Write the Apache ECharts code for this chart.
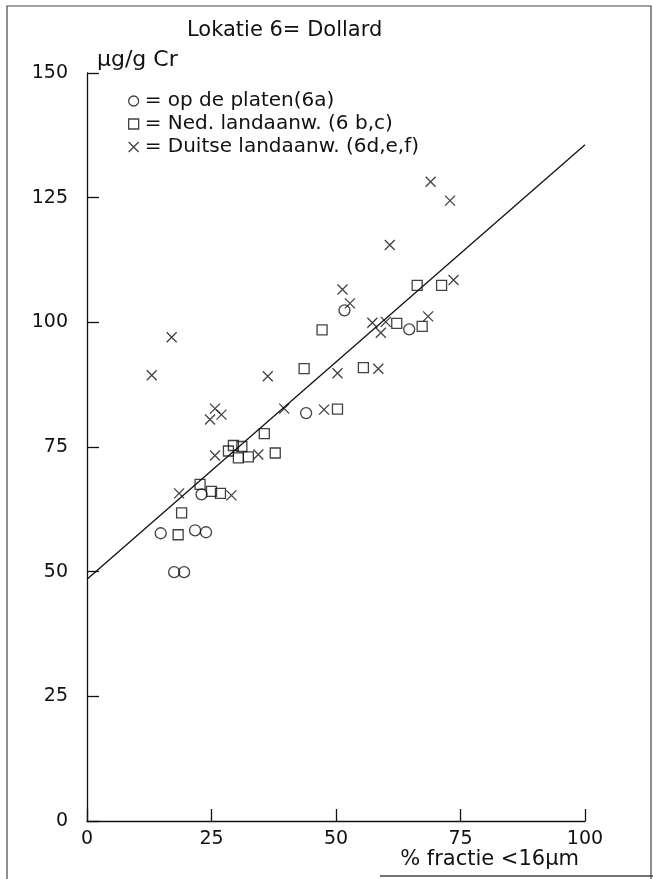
<!DOCTYPE html>
<html>
<head>
<meta charset="utf-8">
<script src="https://cdn.jsdelivr.net/npm/echarts@6/dist/echarts.min.js"></script>
<style>
html,body{margin:0;padding:0;background:#fff;}
#chart{width:653px;height:879px;}
</style>
</head>
<body>
<div id="chart"></div>
<script>
// ---- data ----
var xTicks = [0, 25, 50, 75, 100];
var yTicks = [0, 25, 50, 75, 100, 125, 150];

// o = op de platen (6a)
var platenData = [
  [14.8, 57.7], [17.5, 49.9], [19.5, 49.9], [21.7, 58.3], [23.9, 57.9],
  [23.0, 65.5], [44.0, 81.8], [51.7, 102.4], [64.7, 98.6]
];
// □ = Ned. landaanw. (6 b,c)
var nedData = [
  [18.3, 57.4], [19.0, 61.8], [22.7, 67.5], [25.0, 66.1], [26.8, 65.7],
  [28.4, 74.2], [29.4, 75.3], [31.1, 75.1], [30.4, 72.8], [32.4, 73.0],
  [35.6, 77.7], [37.8, 73.8], [43.6, 90.7], [47.2, 98.5], [50.3, 82.6],
  [55.5, 90.9], [62.2, 99.8], [66.3, 107.4], [67.3, 99.2], [71.2, 107.4]
];
// × = Duitse landaanw. (6d,e,f)
var duitseData = [
  [13.0, 89.4], [17.0, 97.0], [18.5, 65.7], [24.7, 80.5], [25.7, 82.7],
  [27.0, 81.5], [25.7, 73.3], [29.0, 65.3], [34.4, 73.5], [36.3, 89.2],
  [39.6, 82.7], [47.6, 82.5], [50.3, 89.8], [51.3, 106.6], [52.8, 103.8],
  [57.3, 99.9], [59.0, 97.9], [60.0, 100.1], [58.5, 90.7], [60.8, 115.5],
  [68.5, 101.2], [69.0, 128.2], [72.9, 124.4], [73.6, 108.5]
];
// regression line end points
var fitLine = [[0, 48.5], [100, 135.6]];

var seriesNames = ['op de platen(6a)', 'Ned. landaanw. (6 b,c)', 'Duitse landaanw. (6d,e,f)'];
var titleText = 'Lokatie 6= Dollard';
var yName = 'µg/g Cr';
var xName = '% fractie <16µm';

// ---- chart ----
var FONT = "'DejaVu Sans', sans-serif";
var INK = '#111';
var crossPath = 'path://M0,0L10,10M10,0L0,10';
var hollow = {color: 'rgba(0,0,0,0)', borderColor: INK, borderWidth: 1.3};

var chart = echarts.init(document.getElementById('chart'), null, {renderer: 'canvas'});
chart.setOption({
  animation: false,
  backgroundColor: '#fff',
  textStyle: {fontFamily: FONT, color: INK},
  title: {
    text: titleText,
    left: 187, top: 20, padding: 0,
    textStyle: {fontFamily: FONT, fontSize: 21, fontWeight: 'normal', color: INK}
  },
  legend: {
    orient: 'vertical',
    left: 123, top: 86,
    itemWidth: 10, itemHeight: 10, itemGap: 3,
    formatter: function (n) { return '= ' + n; },
    textStyle: {fontFamily: FONT, fontSize: 20, color: INK, lineHeight: 20, padding: [0, 0, 0, 1]},
    data: [
      {name: seriesNames[0], icon: 'circle', itemStyle: hollow},
      {name: seriesNames[1], icon: 'rect', itemStyle: hollow},
      {name: seriesNames[2], icon: crossPath, itemStyle: hollow}
    ]
  },
  grid: {left: 87, right: 68, top: 73, bottom: 58, containLabel: false},
  xAxis: {
    type: 'value', min: xTicks[0], max: xTicks[xTicks.length - 1], interval: 25,
    name: xName, nameLocation: 'end', nameGap: -6,
    nameTextStyle: {fontFamily: FONT, fontSize: 21, color: INK, align: 'right', verticalAlign: 'top', padding: [28, 0, 0, 0]},
    axisLine: {lineStyle: {color: INK, width: 1.3}},
    axisTick: {inside: true, length: 12, lineStyle: {color: INK, width: 1.3}},
    axisLabel: {fontFamily: FONT, fontSize: 19, color: INK, margin: 9},
    splitLine: {show: false}
  },
  yAxis: {
    type: 'value', min: yTicks[0], max: yTicks[yTicks.length - 1], interval: 25,
    name: yName, nameLocation: 'end', nameGap: 3,
    nameTextStyle: {fontFamily: FONT, fontSize: 22, color: INK, align: 'left', verticalAlign: 'bottom', padding: [0, 0, -1, 10]},
    axisLine: {lineStyle: {color: INK, width: 1.3}},
    axisTick: {inside: true, length: 12, lineStyle: {color: INK, width: 1.3}},
    axisLabel: {fontFamily: FONT, fontSize: 19, color: INK, margin: 19},
    splitLine: {show: false}
  },
  series: [
    {
      type: 'line', data: fitLine, showSymbol: false, silent: true,
      lineStyle: {color: INK, width: 1.3}, z: 1
    },
    {
      name: seriesNames[0], type: 'scatter', data: platenData,
      symbol: 'circle', symbolSize: 11, itemStyle: hollow, z: 3
    },
    {
      name: seriesNames[1], type: 'scatter', data: nedData,
      symbol: 'rect', symbolSize: 10, itemStyle: hollow, z: 3
    },
    {
      name: seriesNames[2], type: 'scatter', data: duitseData,
      symbol: crossPath, symbolSize: 10, itemStyle: hollow, z: 3
    }
  ],
  graphic: [
    {type: 'rect', shape: {x: 7, y: 6, width: 644, height: 900}, style: {fill: 'none', stroke: '#444', lineWidth: 1.2}, silent: true},
    {type: 'line', shape: {x1: 380, y1: 876, x2: 653, y2: 876}, style: {stroke: '#444', lineWidth: 1.5}, silent: true}
  ]
});
</script>
</body>
</html>
